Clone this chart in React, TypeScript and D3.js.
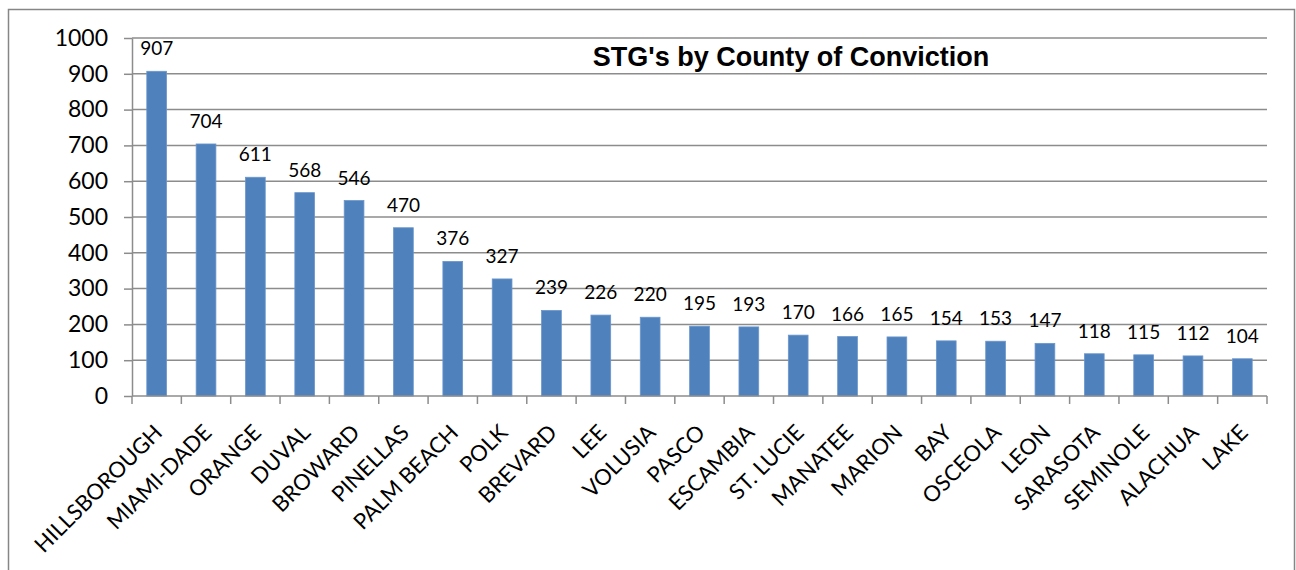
import * as d3 from 'd3';
import React, {useEffect, useRef} from 'react';

// counties, sorted by count (descending)
const counties = [
    'HILLSBOROUGH', 'MIAMI-DADE', 'ORANGE', 'DUVAL', 'BROWARD', 'PINELLAS',
    'PALM BEACH', 'POLK', 'BREVARD', 'LEE', 'VOLUSIA', 'PASCO', 'ESCAMBIA',
    'ST. LUCIE', 'MANATEE', 'MARION', 'BAY', 'OSCEOLA', 'LEON', 'SARASOTA',
    'SEMINOLE', 'ALACHUA', 'LAKE',
];
const counts = [
    907, 704, 611, 568, 546, 470, 376, 327, 239, 226, 220, 195, 193,
    170, 166, 165, 154, 153, 147, 118, 115, 112, 104,
];
const yTicks = [0, 100, 200, 300, 400, 500, 600, 700, 800, 900, 1000];
const title = "STG's by County of Conviction";

const App = () => {
    const ref = useRef(null);

    useEffect(() => {
        const width = 1296, height = 570;
        const plot = {left: 132, right: 1267, top: 38, bottom: 396};
        const font = 'Lato, "Open Sans", sans-serif';

        const svg = d3.select(ref.current);
        svg.selectAll('*').remove();

        // outer chart frame
        svg.append('rect')
            .attr('x', 8.5)
            .attr('y', 9.5)
            .attr('width', width - 10)
            .attr('height', height + 20)
            .attr('fill', 'white')
            .attr('stroke', '#868686')
            .attr('stroke-width', 1.5);

        const x = d3.scaleBand()
            .domain(counties)
            .range([plot.left, plot.right])
            .paddingInner(0.6)
            .paddingOuter(0.3);

        const y = d3.scaleLinear()
            .domain([0, 1000])
            .range([plot.bottom, plot.top]);

        // gridlines
        svg.append('g')
            .selectAll('line')
            .data(yTicks.filter((d) => d > 0))
            .join('line')
            .attr('x1', plot.left)
            .attr('x2', plot.right)
            .attr('y1', (d) => y(d))
            .attr('y2', (d) => y(d))
            .attr('stroke', '#8c8c8c')
            .attr('stroke-width', 1.5);

        // y axis
        const yAxis = d3.axisLeft(y)
            .tickValues(yTicks)
            .tickFormat(d3.format('d'))
            .tickSize(8)
            .tickPadding(16)
            .tickSizeOuter(0);

        const yg = svg.append('g')
            .attr('transform', `translate(${plot.left},0)`)
            .call(yAxis);
        yg.select('.domain').attr('stroke', '#8c8c8c').attr('stroke-width', 1.5);
        yg.selectAll('.tick line').attr('stroke', '#8c8c8c').attr('stroke-width', 1.5);
        yg.selectAll('text')
            .attr('fill', 'black')
            .style('font-family', font)
            .style('font-size', '23px');

        // bars
        svg.append('g')
            .selectAll('rect')
            .data(counties)
            .join('rect')
            .attr('x', (d) => x(d))
            .attr('y', (d, i) => y(counts[i]))
            .attr('width', x.bandwidth())
            .attr('height', (d, i) => y(0) - y(counts[i]))
            .attr('fill', '#4f81bd')
            .attr('stroke', '#6a96cc')
            .attr('stroke-width', 0.8);

        // value labels
        svg.append('g')
            .selectAll('text')
            .data(counties)
            .join('text')
            .attr('x', (d) => x(d) + x.bandwidth() / 2)
            .attr('y', (d, i) => y(counts[i]) - 16)
            .attr('text-anchor', 'middle')
            .attr('fill', 'black')
            .style('font-family', font)
            .style('font-size', '19px')
            .text((d, i) => counts[i]);

        // x axis (ticks at band boundaries, like excel)
        const step = x.step();
        const xAxisG = svg.append('g');
        xAxisG.append('line')
            .attr('x1', plot.left)
            .attr('x2', plot.right)
            .attr('y1', plot.bottom)
            .attr('y2', plot.bottom)
            .attr('stroke', '#8c8c8c')
            .attr('stroke-width', 1.5);
        xAxisG.selectAll('line.tk')
            .data(d3.range(counties.length + 1))
            .join('line')
            .attr('class', 'tk')
            .attr('x1', (i) => plot.left + i * step)
            .attr('x2', (i) => plot.left + i * step)
            .attr('y1', plot.bottom)
            .attr('y2', plot.bottom + 8)
            .attr('stroke', '#8c8c8c')
            .attr('stroke-width', 1.5);

        xAxisG.selectAll('text')
            .data(counties)
            .join('text')
            .attr('transform', (d) => {
                const cx = x(d) + x.bandwidth() / 2 + 7;
                return `translate(${cx},${plot.bottom + 38}) rotate(-45)`;
            })
            .attr('text-anchor', 'end')
            .attr('fill', 'black')
            .style('font-family', font)
            .style('font-size', '22px')
            .text((d) => d);

        // title
        svg.append('text')
            .attr('x', 791)
            .attr('y', 66)
            .attr('text-anchor', 'middle')
            .attr('fill', 'black')
            .style('font-family', '"Liberation Sans", Arial, sans-serif')
            .style('font-weight', 'bold')
            .style('font-size', '27px')
            .text(title);
    }, []);

    return (
        <svg
            ref={ref}
            width={1296}
            height={570}
            style={{position: 'absolute', left: 0, top: 0, background: 'white'}}
        />
    );
};

export default App;
